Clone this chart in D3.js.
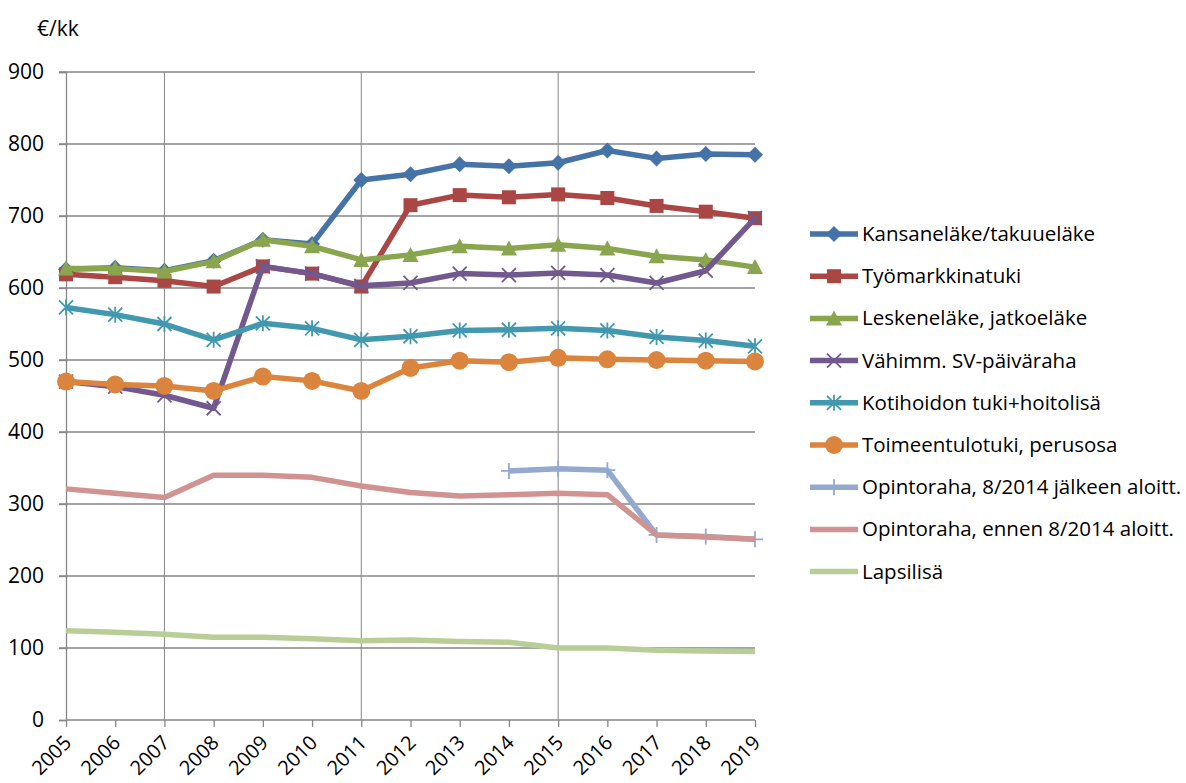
<!DOCTYPE html>
<html><head><meta charset="utf-8">
<script src="https://cdn.jsdelivr.net/npm/d3@7/dist/d3.min.js"></script>
<style>
body{margin:0;background:#fff;}
svg{font-family:"Open Sans","DejaVu Sans",sans-serif;}
</style></head>
<body><svg id="c" width="1186" height="783"></svg>
<script>
const years = ["2005","2006","2007","2008","2009","2010","2011","2012","2013","2014","2015","2016","2017","2018","2019"];
const yTicks = [0,100,200,300,400,500,600,700,800,900];
const vGridYears = ["2007","2011","2015"];
const seriesNames = ["Kansaneläke/takuueläke","Työmarkkinatuki","Leskeneläke, jatkoeläke","Vähimm. SV-päiväraha","Kotihoidon tuki+hoitolisä","Toimeentulotuki, perusosa","Opintoraha, 8/2014 jälkeen aloitt.","Opintoraha, ennen 8/2014 aloitt.","Lapsilisä"];
const kansanelake = [626,628,624,638,667,661,750,758,772,769,774,791,780,786,785];
const tyomarkkinatuki = [619,615,610,602,630,620,602,715,729,726,730,725,714,706,697];
const leskenelake = [627,627,623,637,667,658,639,646,658,655,660,655,644,639,629];
const sv = [470,463,451,433,630,620,603,607,620,618,621,618,607,624,697];
const kotihoidon = [573,563,550,528,551,544,528,533,541,542,544,541,532,527,519];
const toimeentulotuki = [470,466,464,457,477,471,457,489,499,497,503,501,500,499,498];
const opintorahaUusi = [null,null,null,null,null,null,null,null,null,346,349,347,257,255,251];
const opintorahaVanha = [321,315,309,340,340,337,325,316,311,313,315,313,257,254,251];
const lapsilisa = [124,122,119,115,115,113,110,111,109,108,100,100,97,96,95];
const seriesValues = [kansanelake,tyomarkkinatuki,leskenelake,sv,kotihoidon,toimeentulotuki,opintorahaUusi,opintorahaVanha,lapsilisa];
const colors = ["#4572A7","#AA4643","#89A54E","#71588F","#4198AF","#DB843D","#93A9CF","#D19392","#B9CD96"];
const markers = ["diamond","square","triangle","x","asterisk","circle","plus","none","none"];

const svg = d3.select("#c");
const x = d3.scalePoint().domain(years).range([66,755]);
const y = d3.scaleLinear().domain([0,900]).range([720,72]);
const gridCol = "#868686";

// horizontal gridlines
svg.append("g").selectAll("line").data(yTicks.filter(d=>d>0)).join("line")
  .attr("x1",59).attr("x2",755).attr("y1",d=>y(d)).attr("y2",d=>y(d))
  .attr("stroke",gridCol).attr("stroke-width",1.3);
// vertical gridlines
svg.append("g").selectAll("line").data(vGridYears).join("line")
  .attr("x1",d=>x(d)).attr("x2",d=>x(d)).attr("y1",72).attr("y2",720)
  .attr("stroke",gridCol).attr("stroke-width",1);

// y axis
const yAxis = svg.append("g").attr("transform","translate(66,0)")
  .call(d3.axisLeft(y).tickValues(yTicks).tickSize(7).tickPadding(15));
yAxis.select(".domain").attr("stroke",gridCol).attr("stroke-width",1.3);
yAxis.selectAll(".tick line").attr("stroke",gridCol).attr("stroke-width",1.3);
yAxis.selectAll("text").attr("font-size",21).attr("fill","#000").attr("font-family","Open Sans");

// x axis
const xAxis = svg.append("g").attr("transform","translate(0,720)")
  .call(d3.axisBottom(x).tickSize(7).tickSizeOuter(0));
xAxis.select(".domain").attr("stroke",gridCol).attr("stroke-width",1.3).attr("d","M66,0H755");
xAxis.selectAll(".tick line").attr("stroke",gridCol).attr("stroke-width",1.3);
xAxis.selectAll("text").attr("font-size",20).attr("fill","#000").attr("font-family","Open Sans")
  .attr("text-anchor","end").attr("dy",null).attr("y",0)
  .attr("transform","translate(6,24) rotate(-45)");

// unit label
svg.append("text").attr("x",37).attr("y",36).attr("font-size",21).text("€/kk");

function drawMarker(g, type, color){
  const s = 7;
  if(type==="diamond") g.append("path").attr("d",`M0,${-s-1}L${s+1},0L0,${s+1}L${-s-1},0Z`).attr("fill",color);
  else if(type==="square") g.append("rect").attr("x",-s).attr("y",-s).attr("width",2*s).attr("height",2*s).attr("fill",color);
  else if(type==="triangle") g.append("path").attr("d",`M0,${-s-1}L${s+1},${s}L${-s-1},${s}Z`).attr("fill",color);
  else if(type==="circle") g.append("circle").attr("r",s+2).attr("fill",color);
  else if(type==="x") g.append("path").attr("d",`M${-s},${-s}L${s},${s}M${-s},${s}L${s},${-s}`).attr("stroke",color).attr("stroke-width",1.8);
  else if(type==="asterisk") g.append("path").attr("d",`M${-s},${-s}L${s},${s}M${-s},${s}L${s},${-s}M0,${-s-1}L0,${s+1}`).attr("stroke",color).attr("stroke-width",1.8);
  else if(type==="plus") g.append("path").attr("d",`M0,${-s-1}L0,${s+1}M${-s-1},0L${s+1},0`).attr("stroke",color).attr("stroke-width",1.8);
}

const line = d3.line().defined(d=>d.v!=null).x(d=>x(d.year)).y(d=>y(d.v));
seriesValues.forEach((vals,i)=>{
  const data = years.map((yr,j)=>({year:yr,v:vals[j]}));
  const g = svg.append("g");
  g.append("path").datum(data).attr("d",line).attr("fill","none")
    .attr("stroke",colors[i]).attr("stroke-width",5.5).attr("stroke-linejoin","round");
  if(markers[i]!=="none"){
    data.filter(d=>d.v!=null).forEach(d=>{
      const m = g.append("g").attr("transform",`translate(${x(d.year)},${y(d.v)})`);
      drawMarker(m, markers[i], colors[i]);
    });
  }
});

// legend
const lg = svg.append("g");
seriesNames.forEach((name,i)=>{
  const yy = 234 + i*42.2;
  const g = lg.append("g").attr("transform",`translate(0,${yy})`);
  g.append("line").attr("x1",810).attr("x2",858).attr("y1",0).attr("y2",0)
    .attr("stroke",colors[i]).attr("stroke-width",5.5);
  if(markers[i]!=="none"){
    const m = g.append("g").attr("transform","translate(834,0)");
    drawMarker(m, markers[i], colors[i]);
  }
  g.append("text").attr("x",862).attr("y",7).attr("font-size",20.5).attr("fill","#000").text(name);
});
</script></body></html>
